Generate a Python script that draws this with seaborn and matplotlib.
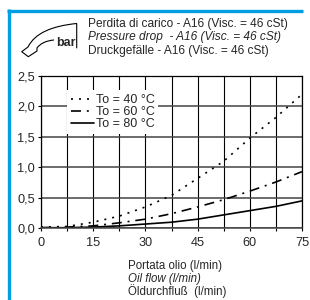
import numpy as np
import pandas as pd
import matplotlib
matplotlib.use("Agg")
import matplotlib.pyplot as plt
from matplotlib.path import Path
from matplotlib.patches import PathPatch
import seaborn as sns

# ---- data ----
flow = [0, 7.5, 15, 22.5, 30, 37.5, 45, 52.5, 60, 67.5, 75]
dp40 = [0.02, 0.03, 0.10, 0.20, 0.35, 0.54, 0.82, 1.10, 1.48, 1.82, 2.20]
dp60 = [0.01, 0.02, 0.04, 0.09, 0.15, 0.24, 0.35, 0.47, 0.61, 0.76, 0.93]
dp80 = [0.01, 0.01, 0.02, 0.04, 0.07, 0.10, 0.15, 0.22, 0.29, 0.36, 0.45]
series_labels = ["To = 40 °C", "To = 60 °C", "To = 80 °C"]
x_ticks = [0, 15, 30, 45, 60, 75]
y_ticks = [0.0, 0.5, 1.0, 1.5, 2.0, 2.5]
y_ticklabels = ["0,0", "0,5", "1,0", "1,5", "2,0", "2,5"]
title_lines = ["Perdita di carico - A16 (Visc. = 46 cSt)",
               "Pressure drop  - A16 (Visc. = 46 cSt)",
               "Druckgefälle - A16 (Visc. = 46 cSt)"]
xlabel_lines = ["Portata olio (l/min)", "Oil flow (l/min)", "Öldurchfluß  (l/min)"]

sns.set_theme(style="white")
plt.rcParams['font.family'] = ['Liberation Sans', 'DejaVu Sans']

W, H = 310, 300
fig = plt.figure(figsize=(W / 100, H / 100), dpi=100)

# overlay for decorations (pixel coordinates)
ov = fig.add_axes([0, 0, 1, 1])
ov.set_xlim(0, W)
ov.set_ylim(H, 0)
ov.axis('off')
ov.patch.set_visible(False)
blue = '#009FE3'
ov.plot([8.5, 8.5], [9.3, 300], color=blue, lw=2.4, solid_capstyle='butt')
ov.plot([7.3, 303], [10.5, 10.5], color=blue, lw=2.4, solid_capstyle='butt')

verts = [(54, 40), (42, 41), (37, 48), (37, 51), (28.3, 56.7), (21.7, 51.7), (28, 47),
         (35, 33), (52, 26), (76.7, 23.5), (76.7, 48.3)]
codes = [Path.MOVETO, Path.CURVE3, Path.CURVE3, Path.LINETO, Path.LINETO, Path.LINETO,
         Path.LINETO, Path.CURVE4, Path.CURVE4, Path.CURVE4, Path.LINETO]
ov.add_patch(PathPatch(Path(verts, codes), facecolor='none', edgecolor='black', lw=0.8))
ov.text(65.5, 45.5, "bar", fontsize=9, fontweight='bold', ha='center', va='baseline')

for i, (t, yb) in enumerate(zip(title_lines, [26.5, 40.3, 54.0])):
    ov.text(88.5, yb, t, fontsize=8.6, ha='left', va='baseline',
            style='italic' if i == 1 else 'normal')
for i, (t, yb) in enumerate(zip(xlabel_lines, [268.5, 282, 295.5])):
    ov.text(128, yb, t, fontsize=8.3, ha='left', va='baseline',
            style='italic' if i == 1 else 'normal')

# main axes
left, right, top, bottom = 41, 302, 76, 228.3
ax = fig.add_axes([left / W, 1 - bottom / H, (right - left) / W, (bottom - top) / H])

sns.lineplot(x=flow, y=dp40, ax=ax, color='black', lw=1.2, linestyle=(0, (1.2, 3.6)),
             label=series_labels[0])
sns.lineplot(x=flow, y=dp60, ax=ax, color='black', lw=1.2, linestyle=(0, (6, 3.5, 1.2, 3.5)),
             label=series_labels[1])
sns.lineplot(x=flow, y=dp80, ax=ax, color='black', lw=1.2, linestyle='-',
             label=series_labels[2])

ax.set_xlim(0, 75)
ax.set_ylim(0, 2.5)
ax.set_xticks(x_ticks)
ax.set_xticks(np.arange(7.5, 75, 15), minor=True)
ax.set_yticks(y_ticks)
ax.set_yticklabels(y_ticklabels)
ax.set_xlabel("")
ax.set_ylabel("")
ax.tick_params(axis='both', which='both', direction='out', length=2.5, width=0.8,
               color='black', labelsize=9.2, left=True, bottom=True)
ax.tick_params(axis='x', which='major', pad=3.5)
ax.tick_params(axis='y', which='major', pad=1.8)
ax.tick_params(axis='x', which='minor', labelbottom=False)
ax.grid(True, axis='x', which='both', color='black', lw=0.8)
ax.grid(True, axis='y', which='major', color='#444444', lw=1.1)
for s in ['top', 'left', 'right']:
    ax.spines[s].set_color('black')
    ax.spines[s].set_linewidth(0.9)
ax.spines['bottom'].set_color('#444444')
ax.spines['bottom'].set_linewidth(1.1)

leg = ax.legend(loc='upper left', bbox_to_anchor=(0.0996, 0.906), fontsize=9,
                frameon=True, fancybox=False, framealpha=1, facecolor='white',
                edgecolor='none', handlelength=1.9, handletextpad=0.1,
                labelspacing=0.0, borderpad=0.3, borderaxespad=0)

fig.savefig("out.png", dpi=100)
